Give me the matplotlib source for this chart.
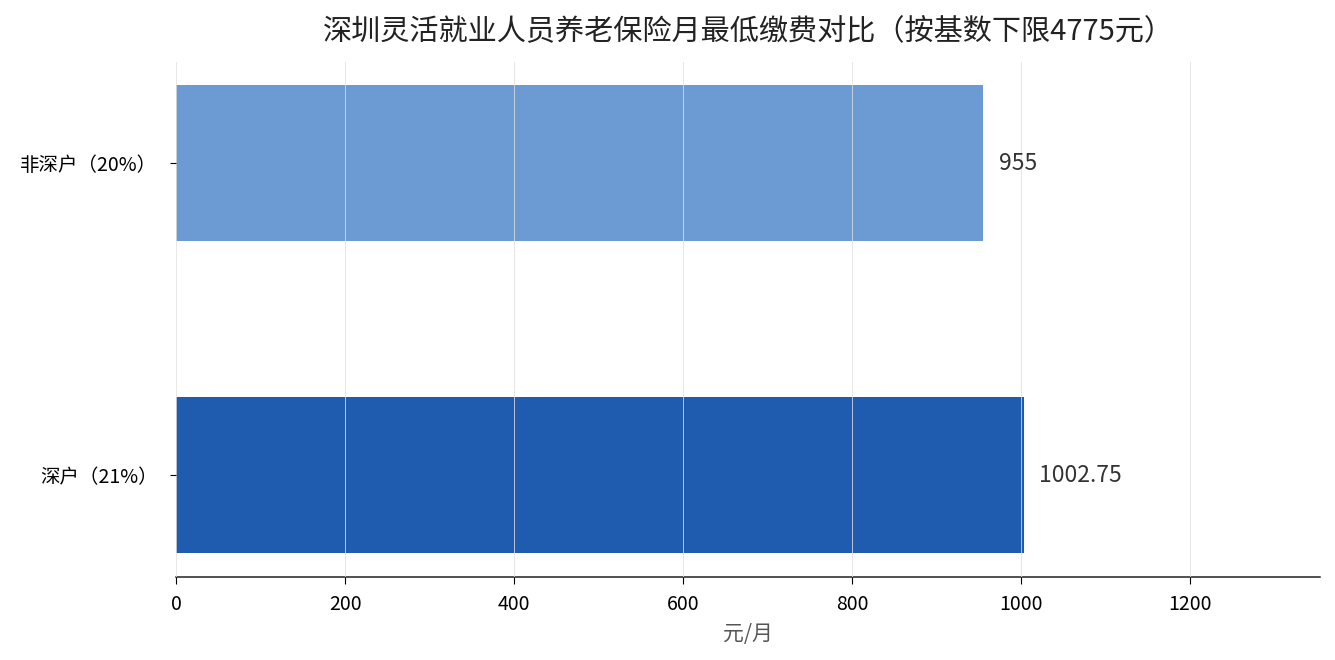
import matplotlib
matplotlib.use("Agg")
import matplotlib.pyplot as plt

plt.rcParams['font.family'] = ['Noto Sans CJK SC', 'DejaVu Sans']

# 数据
categories = ['深户（21%）', '非深户（20%）']
values = [1002.75, 955]
colors = ['#1f5bae', '#6c9bd3']
value_labels = ['1002.75', '955']

fig, ax = plt.subplots(figsize=(13.35, 6.6), dpi=100)
fig.subplots_adjust(left=0.132, right=0.989, top=0.906, bottom=0.126)

ypos = range(len(categories))
ax.barh(ypos, values, height=0.5, color=colors, zorder=1)
ax.set_yticks(list(ypos))
ax.set_yticklabels(categories, fontsize=14)
ax.tick_params(axis='y', length=4.5, pad=9)

for y, v, lab in zip(ypos, values, value_labels):
    ax.text(v + max(values) * 0.018, y, lab, va='center', ha='left',
            fontsize=16.5, color='#333333')

ax.set_xlim(0, max(values) * 1.35)
ax.xaxis.grid(True, color='#e0e0e0', linewidth=0.7, alpha=0.8, zorder=2)
ax.set_axisbelow(False)
ax.tick_params(axis='x', labelsize=14, length=5, pad=7)
ax.set_xlabel('元/月', fontsize=15, color='#555555', labelpad=6)

for s in ['top', 'right', 'left']:
    ax.spines[s].set_visible(False)
ax.spines['bottom'].set_color('#222222')
ax.spines['bottom'].set_linewidth(1.1)

ax.set_title('深圳灵活就业人员养老保险月最低缴费对比（按基数下限4775元）',
             fontsize=21, color='#222222', pad=16)

plt.savefig('out.png', dpi=100)
